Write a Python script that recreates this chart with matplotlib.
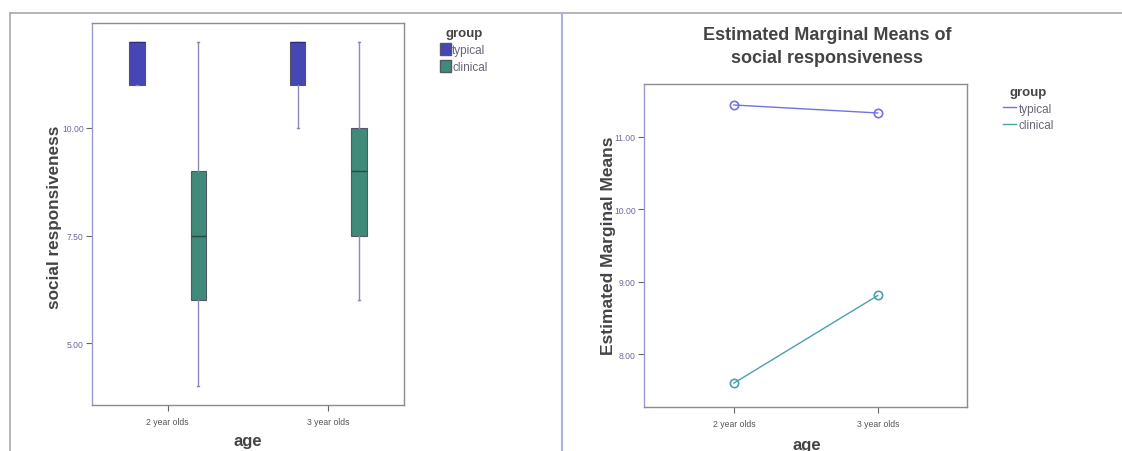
import matplotlib
matplotlib.use("Agg")
import matplotlib.pyplot as plt
from matplotlib.patches import Patch
from matplotlib.lines import Line2D

plt.rcParams['font.family'] = ['Liberation Sans', 'DejaVu Sans']

# data
ages = ['2 year olds', '3 year olds']
groups = ['typical', 'clinical']

# box plot summaries per group, one value per age
box_whislo = {'typical': [11.0, 10.0], 'clinical': [4.0, 6.0]}
box_q1 = {'typical': [11.0, 11.0], 'clinical': [6.0, 7.5]}
box_med = {'typical': [12.0, 12.0], 'clinical': [7.5, 9.0]}
box_q3 = {'typical': [12.0, 12.0], 'clinical': [9.0, 10.0]}
box_whishi = {'typical': [12.0, 12.0], 'clinical': [12.0, 12.0]}

# estimated marginal means
emm = {'typical': [11.44, 11.33], 'clinical': [7.60, 8.81]}

box_colors = {'typical': '#4646b4', 'clinical': '#3f8a78'}
median_colors = {'typical': '#2e2e80', 'clinical': '#2a4a44'}
line_colors = {'typical': '#7272e0', 'clinical': '#4aa0ac'}
tick_col = '#6a6a9a'
txt_col = '#444444'

W, H = 1122, 452
fig = plt.figure(figsize=(W / 100, H / 100), dpi=100)


def rect(x0, y0, x1, y1):
    return [x0 / W, 1 - y1 / H, (x1 - x0) / W, (y1 - y0) / H]


# panel frames
fig.add_artist(Line2D([10 / W, 1], [1 - 14 / H] * 2, color='#a8a8b8', lw=1.2))
fig.add_artist(Line2D([10 / W] * 2, [0, 1 - 14 / H], color='#a8a8b0', lw=1.2))
fig.add_artist(Line2D([562 / W] * 2, [0, 1 - 14 / H], color='#b0b0dc', lw=1.5))

# ---- left: boxplot ----
ax1 = fig.add_axes(rect(92, 24, 404, 406))
offsets = {'typical': -0.19, 'clinical': 0.19}
for g in groups:
    stats = []
    for i in range(len(ages)):
        stats.append({'whislo': box_whislo[g][i], 'q1': box_q1[g][i],
                      'med': box_med[g][i], 'q3': box_q3[g][i],
                      'whishi': box_whishi[g][i], 'fliers': []})
    pos = [i + offsets[g] for i in range(len(ages))]
    ax1.bxp(stats, positions=pos, widths=0.095, patch_artist=True,
            showfliers=False, manage_ticks=False, capwidths=0.012,
            boxprops=dict(facecolor=box_colors[g], edgecolor='#555566', lw=0.8),
            medianprops=dict(color=median_colors[g], lw=1.0),
            whiskerprops=dict(color='#8a8ab4', lw=1.0),
            capprops=dict(color='#8a8ab4', lw=1.0))

ax1.set_xlim(-0.47, 1.47)
ax1.set_ylim(3.56, 12.44)
ax1.set_yticks([5, 7.5, 10])
ax1.set_yticklabels(['5.00', '7.50', '10.00'])
ax1.set_xticks(range(len(ages)))
ax1.set_xticklabels(ages)

# ---- right: marginal means ----
ax2 = fig.add_axes(rect(644, 85, 967, 408))
for g in groups:
    ax2.plot(range(len(ages)), emm[g], color=line_colors[g], lw=1.0,
             marker='o', markersize=6, markerfacecolor='none',
             markeredgecolor=line_colors[g], markeredgewidth=1.2)
ax2.set_xlim(-0.625, 1.62)
ax2.set_ylim(7.27, 11.73)
ax2.set_yticks([8, 9, 10, 11])
ax2.set_yticklabels(['8.00', '9.00', '10.00', '11.00'])
ax2.set_xticks(range(len(ages)))
ax2.set_xticklabels(ages)

for ax in (ax1, ax2):
    for s in ax.spines.values():
        s.set_color('#8c8c8c')
        s.set_linewidth(1.0)
    ax.spines['left'].set_color('#9a9ad0')
    ax.tick_params(axis='both', labelsize=6.2, colors='#666666', length=4,
                   width=0.8, pad=2)
    ax.tick_params(axis='y', labelcolor=tick_col)
    ax.tick_params(axis='x', labelcolor='#555555', pad=5)

# axis titles
fig.text(55 / W, 1 - 217 / H, 'social responsiveness', rotation=90,
         ha='center', va='center', fontsize=12.3, fontweight='bold', color=txt_col)
fig.text(248 / W, 1 - 442 / H, 'age', ha='center', va='center',
         fontsize=12, fontweight='bold', color=txt_col)
fig.text(608 / W, 1 - 246 / H, 'Estimated Marginal Means', rotation=90,
         ha='center', va='center', fontsize=12.5, fontweight='bold', color=txt_col)
fig.text(807 / W, 1 - 446 / H, 'age', ha='center', va='center',
         fontsize=12, fontweight='bold', color=txt_col)
fig.text(827 / W, 1 - 47 / H, 'Estimated Marginal Means of\nsocial responsiveness',
         ha='center', va='center', fontsize=13, fontweight='bold', color=txt_col,
         linespacing=1.45)

# legends
h1 = [Patch(facecolor=box_colors[g], edgecolor='#555566', label=g) for g in groups]
lg1 = fig.legend(handles=h1, title='group', loc='upper left',
                 bbox_to_anchor=(434 / W, 1 - 22 / H), frameon=False,
                 fontsize=8.5, handlelength=0.9, handleheight=1.2,
                 handletextpad=0.15, labelspacing=0.35, borderpad=0,
                 title_fontproperties={'weight': 'bold', 'size': 9.5})
h2 = [Line2D([], [], color=line_colors[g], lw=1.0, label=g) for g in groups]
lg2 = fig.legend(handles=h2, title='group', loc='upper left',
                 bbox_to_anchor=(997 / W, 1 - 81 / H), frameon=False,
                 fontsize=8.5, handlelength=1.1, handletextpad=0.25,
                 labelspacing=0.4, borderpad=0,
                 title_fontproperties={'weight': 'bold', 'size': 9.5})
for lg in (lg1, lg2):
    lg.get_title().set_color(txt_col)
    for t in lg.get_texts():
        t.set_color('#666677')

fig.savefig('out.png', dpi=100)
